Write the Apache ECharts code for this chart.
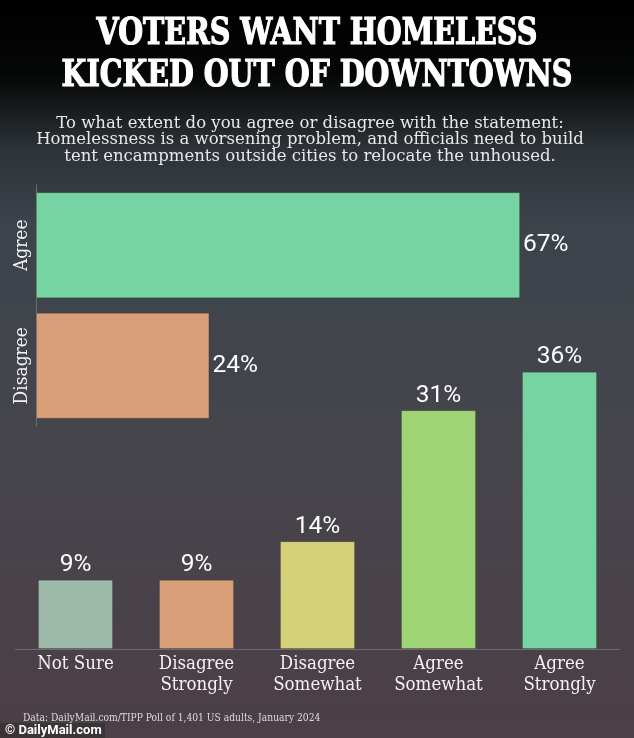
<!DOCTYPE html>
<html>
<head>
<meta charset="utf-8">
<script src="https://cdn.jsdelivr.net/npm/echarts@6/dist/echarts.min.js"></script>
<style>
html,body{margin:0;padding:0;background:#000;}
#chart{width:634px;height:738px;}
</style>
</head>
<body>
<div id="chart"></div>
<script>
// ---- data ----
const summaryCategories = ['Agree', 'Disagree'];
const summaryValues = [67, 24];
const detailCategories = ['Not Sure', 'Disagree\nStrongly', 'Disagree\nSomewhat', 'Agree\nSomewhat', 'Agree\nStrongly'];
const detailValues = [9, 9, 14, 31, 36];
const titleLines = ['VOTERS WANT HOMELESS', 'KICKED OUT OF DOWNTOWNS'];
const subtitleText = 'To what extent do you agree or disagree with the statement:\nHomelessness is a worsening problem, and officials need to build\ntent encampments outside cities to relocate the unhoused.';
const sourceText = 'Data: DailyMail.com/TIPP Poll of 1,401 US adults, January 2024';
const logoText = '© DailyMail.com';

// ---- styles ----
const summaryColors = ['#76d4a2', '#d79e77'];
const detailColors = ['#9dbaab', '#d79e77', '#d5d178', '#a0d575', '#75d4a2'];
const valueFont = '"Roboto", "DejaVu Sans", sans-serif';
const slabFont = '"DejaVu Serif Condensed", "DejaVu Serif", serif';
const titleFont = 'bold 38px "DejaVu Serif Condensed", "DejaVu Serif", serif';

const chart = echarts.init(document.getElementById('chart'), null, {renderer: 'canvas'});
chart.setOption({
  animation: false,
  backgroundColor: {
    type: 'linear', x: 0, y: 0, x2: 0, y2: 1,
    colorStops: [
      {offset: 0, color: '#000000'},
      {offset: 0.1, color: '#050606'},
      {offset: 0.2, color: '#2c3237'},
      {offset: 0.3, color: '#3c434b'},
      {offset: 0.6, color: '#46454c'},
      {offset: 1, color: '#4c3f47'}
    ]
  },
  title: [
    {
      text: sourceText, left: 23, top: 713, padding: 0,
      textStyle: {color: '#dddddd', fontSize: 10.2, fontWeight: 'normal', fontFamily: slabFont}
    }
  ],
  graphic: [
    {type: 'text', x: 317, y: 34, scaleX: 0.835, style: {text: titleLines[0], fill: '#ffffff', stroke: '#ffffff', lineWidth: 1.2, align: 'center', verticalAlign: 'middle', font: titleFont}},
    {type: 'text', x: 317, y: 76, scaleX: 0.835, style: {text: titleLines[1], fill: '#ffffff', stroke: '#ffffff', lineWidth: 1.2, align: 'center', verticalAlign: 'middle', font: titleFont}},
    {type: 'text', x: 310, y: 115, style: {text: subtitleText, fill: '#e8e8e8', align: 'center', verticalAlign: 'top', lineHeight: 16.8, font: '16.5px "DejaVu Serif", serif'}},
    {type: 'rect', left: 0, top: 723, shape: {width: 105, height: 15}, style: {fill: '#3a3437'}},
    {type: 'text', left: 5, top: 724, style: {text: logoText, fill: '#ffffff', font: 'bold 13px "Roboto", "Liberation Sans", sans-serif'}}
  ],
  grid: [
    {left: 36, top: 185, width: 578, height: 241},
    {left: 15, top: 264, width: 605, height: 385}
  ],
  xAxis: [
    {type: 'value', gridIndex: 0, min: 0, max: 80, show: false},
    {
      type: 'category', gridIndex: 1, data: detailCategories,
      axisLine: {show: true, lineStyle: {color: '#6a6a70', width: 1}},
      axisTick: {show: false},
      axisLabel: {color: '#f2f2f2', fontSize: 18.5, fontFamily: slabFont, lineHeight: 21, margin: 5, interval: 0}
    }
  ],
  yAxis: [
    {
      type: 'category', gridIndex: 0, data: summaryCategories, inverse: true,
      axisLine: {show: true, lineStyle: {color: '#6a6f76', width: 1}},
      axisTick: {show: false},
      axisLabel: {color: '#f2f2f2', fontSize: 19, fontFamily: slabFont, rotate: 90, margin: 4}
    },
    {type: 'value', gridIndex: 1, min: 0, max: 50, show: false}
  ],
  series: [
    {
      type: 'bar', xAxisIndex: 0, yAxisIndex: 0, barWidth: 106,
      data: summaryValues.map((v, i) => ({value: v, itemStyle: {color: summaryColors[i]}})),
      itemStyle: {borderColor: 'rgba(0,0,0,0.15)', borderWidth: 1},
      label: {show: true, position: 'right', distance: 3, formatter: '{c}%', color: '#ffffff', fontSize: 24.5, fontWeight: 'normal', fontFamily: valueFont}
    },
    {
      type: 'bar', xAxisIndex: 1, yAxisIndex: 1, barWidth: 75,
      data: detailValues.map((v, i) => ({value: v, itemStyle: {color: detailColors[i]}})),
      itemStyle: {borderColor: 'rgba(0,0,0,0.15)', borderWidth: 1},
      label: {show: true, position: 'top', distance: 2, formatter: '{c}%', color: '#ffffff', fontSize: 24.5, fontWeight: 'normal', fontFamily: valueFont}
    }
  ]
});
</script>
</body>
</html>
